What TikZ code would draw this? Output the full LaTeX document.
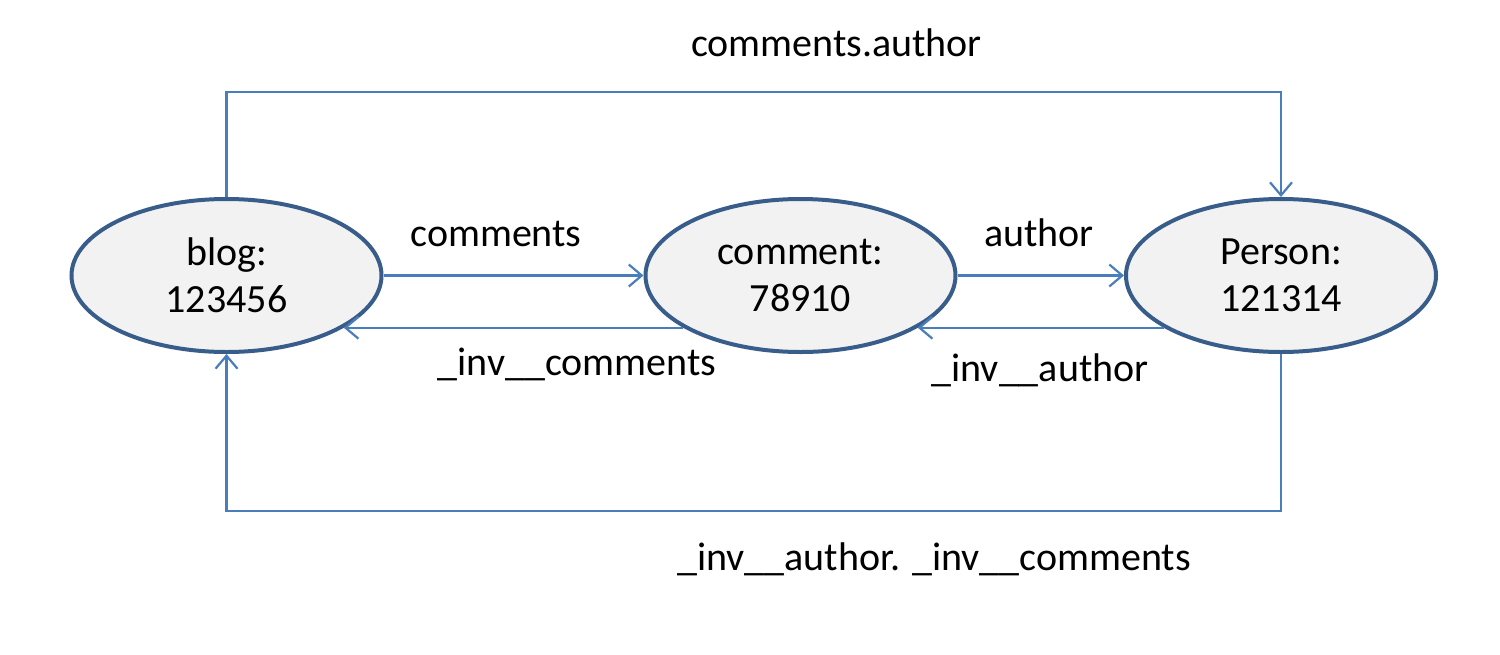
\documentclass[tikz,border=0pt]{standalone}
\usepackage{fontspec}
\setmainfont{Carlito}
\usetikzlibrary{arrows.meta,shapes.geometric}
\definecolor{nodeborder}{HTML}{385D8A}
\definecolor{nodefill}{HTML}{F2F2F2}
\definecolor{linkcol}{HTML}{4A7EBB}
\begin{document}
\begin{tikzpicture}[x=1pt,y=-1pt,
  every node/.style={font=\fontsize{40}{47}\selectfont},
  entity/.style={ellipse, draw=nodeborder, fill=nodefill, line width=4pt,
    minimum width=310pt, minimum height=153pt, inner sep=0pt, align=center},
  link/.style={draw=linkcol, line width=2.2pt,
    -{Straight Barb[length=13pt,width=22pt,line width=2.2pt]}},
  lbl/.style={anchor=base, inner sep=0pt}]
\useasboundingbox (0,0) rectangle (1500,654);
\node[entity] (blog) at (226.5,275.5) {blog:\\123456};
\node[entity] (comment) at (800.5,275.5) {comment:\\78910};
\node[entity] (person) at (1281,275.5) {Person:\\121314};

\draw[link] (blog.east) -- (comment.west);
\draw[link] (comment.east) -- (person.west);
\draw[link] (comment.204.6) -- (blog.-24.6);
\draw[link] (person.204.6) -- (comment.-24.6);
\draw[link] (blog.north) -- ++(0,-105) -| (person.north);
\draw[link] (person.south) -- ++(0,157) -| (blog.south);

\node[lbl] (l1) at (836.5,56) {comments.author};
\node[lbl] (l2) at (496,246) {comments};
\node[lbl] (l3) at (1039,246) {author};
\node[lbl] (l4) at (577,375) {\_inv\_\_comments};
\node[lbl] (l5) at (1040,381) {\_inv\_\_author};
\node[lbl] (l6) at (934,570) {\_inv\_\_author. \_inv\_\_comments};
\end{tikzpicture}
\end{document}
